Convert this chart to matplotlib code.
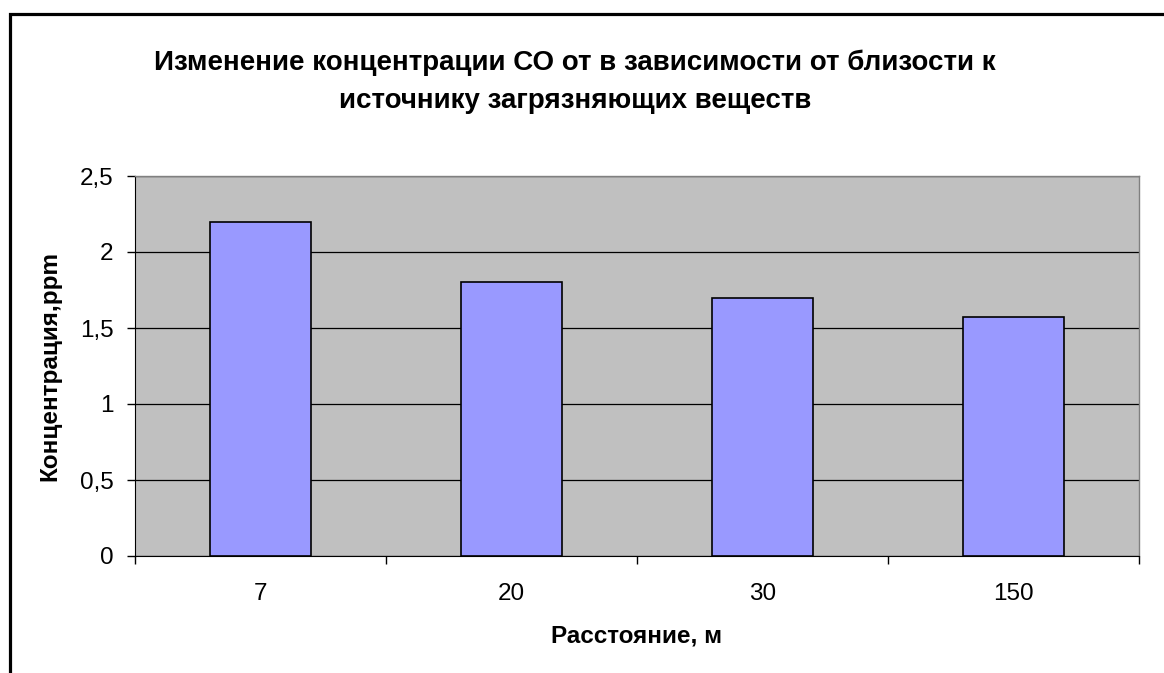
import matplotlib
matplotlib.use("Agg")
import matplotlib.pyplot as plt
from matplotlib.patches import Rectangle
import numpy as np

categories = ["7", "20", "30", "150"]
values = [2.2, 1.8, 1.7, 1.57]
yticks = [0, 0.5, 1, 1.5, 2, 2.5]
ytick_labels = ["0", "0,5", "1", "1,5", "2", "2,5"]

plt.rcParams['font.family'] = ['Liberation Sans', 'DejaVu Sans']

W, H = 1164, 673
fig = plt.figure(figsize=(W/100, H/100), dpi=100)
fig.patch.set_facecolor('white')

# outer frame
fig.add_artist(Rectangle((9.5/W, -0.1), 1.2, (H-14)/H + 0.1, transform=fig.transFigure,
                         fill=False, edgecolor='black', linewidth=2.3))

left, right, top, bottom = 135, 1139, 176, 556
ax = fig.add_axes([left/W, 1-bottom/H, (right-left)/W, (bottom-top)/H])
ax.set_facecolor('#c0c0c0')

x = np.arange(len(categories))
ax.bar(x, values, width=0.4, color='#9999ff', edgecolor='black', linewidth=1.2, zorder=3)
ax.set_xlim(-0.5, len(categories)-0.5)
ax.set_ylim(0, 2.5)
ax.set_yticks(yticks)
ax.set_yticklabels(ytick_labels, fontsize=17.5)
ax.yaxis.grid(True, color='black', linewidth=0.9, zorder=1)
ax.set_axisbelow(True)

ax.set_xticks(np.arange(-0.5, len(categories), 1.0))
ax.set_xticklabels([])
ax.set_xticks(x, minor=True)
ax.set_xticklabels(categories, minor=True, fontsize=17.5)
ax.tick_params(axis='x', which='major', length=6, width=1, color='black', direction='out')
ax.tick_params(axis='x', which='minor', length=0, pad=19.5)
ax.tick_params(axis='y', length=6, width=1, direction='out', pad=9.5)

for s in ['top', 'right']:
    ax.spines[s].set_color('#808080')
    ax.spines[s].set_linewidth(1)
ax.spines['left'].set_color('black')
ax.spines['bottom'].set_color('black')

fig.text(637/W, 1-643/H, "Расстояние, м", ha='center', va='baseline',
         fontsize=17.5, fontweight='bold')
fig.text(50/W, 1-366/H, "Концентрация,ppm", ha='center', va='center', rotation=90,
         fontsize=17.5, fontweight='bold')

fig.text(575/W, 1-63/H, "Изменение концентрации СО от в зависимости от близости к",
         ha='center', va='center', fontsize=20, fontweight='bold')
fig.text(575/W, 1-101/H, "источнику загрязняющих веществ",
         ha='center', va='center', fontsize=20, fontweight='bold')

fig.savefig("out.png", dpi=100, facecolor='white')
